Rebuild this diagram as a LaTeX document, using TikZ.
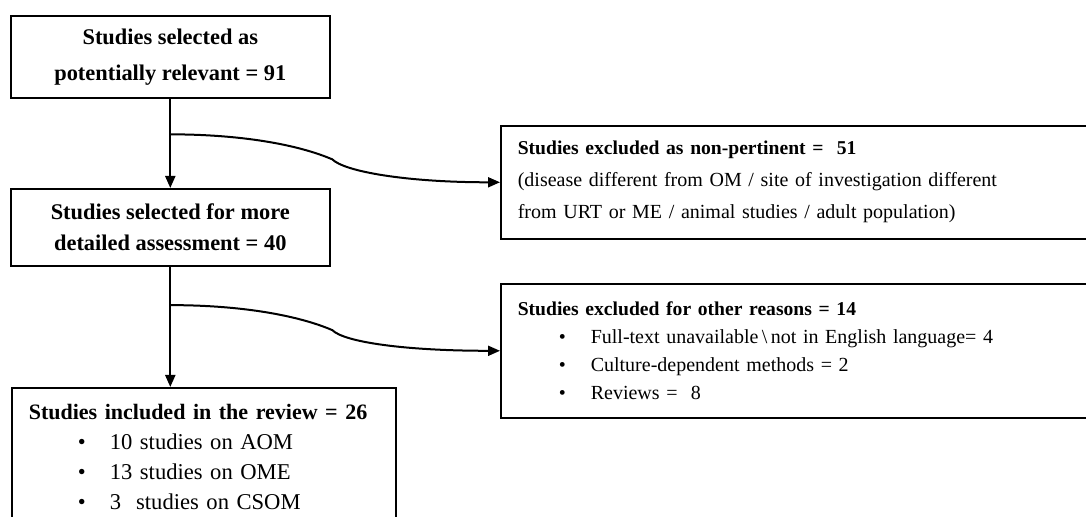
\documentclass[tikz,border=0pt]{standalone}
\usepackage{fontspec}
\setmainfont{Liberation Serif}
\usetikzlibrary{arrows.meta,calc}
\tikzset{
  stagebox/.style={draw,line width=0.8pt,anchor=north west,inner sep=0pt},
  listbox/.style={stagebox,align=left,inner xsep=8.5pt},
  flowline/.style={line width=1pt},
  flowarrow/.style={line width=1pt,-{Triangle[length=6pt,width=5pt]}}
}
\newcommand{\bul}[1]{\hspace*{#1}\makebox[16pt][l]{\textbullet}}
\newcommand{\rtitle}[1]{{\fontsize{9.8}{14}\selectfont\bfseries #1}}

\begin{document}
\begin{tikzpicture}[x=0.5pt,y=-0.5pt]
  \useasboundingbox (0,0) rectangle (1086,517);
  \clip (0,0) rectangle (1086,517);
  % stages on the left
  \node[stagebox,minimum width=159.5pt,minimum height=41pt,align=center,
        font=\fontsize{11.2}{17}\selectfont\bfseries] (sel) at (10,15)
    {Studies selected as\\[1pt]potentially relevant = 91};
  \node[stagebox,minimum width=159.5pt,minimum height=38.5pt,align=center,
        font=\fontsize{11.2}{15.5}\selectfont\bfseries] (det) at (10,188)
    {Studies selected for more\\detailed assessment = 40};
  \node[listbox,text width=175pt,inner ysep=8pt,
        font=\fontsize{11.3}{15}\selectfont] (inc) at (11,387)
    {{\fontsize{11}{15}\selectfont\bfseries Studies included in the review = 26}\\
     \bul{24.5pt}10 studies on AOM\\
     \bul{24.5pt}13 studies on OME\\
     \bul{24.5pt}3\ \ studies on CSOM\\[4pt]};
  % exclusions on the right
  \node[listbox,text width=283pt,minimum height=56.5pt,
        font=\fontsize{10}{16}\selectfont] (nonp) at (500,125)
    {\rtitle{Studies excluded as non-pertinent =\ \ 51}\\
     (disease different from OM / site of investigation different\\
     from URT or ME / animal studies / adult population)};
  \node[listbox,text width=283pt,minimum height=67pt,
        font=\fontsize{10}{14}\selectfont] (oth) at (500,283)
    {\rtitle{Studies excluded for other reasons = 14}\\
     \bul{20.5pt}Full-text unavailable\,\textbackslash\,not in English language= 4\\
     \bul{20.5pt}Culture-dependent methods = 2\\
     \bul{20.5pt}Reviews =\ \ 8};
  % branch points
  \coordinate (b1) at ($(sel.south)!0.4!(det.north)$);
  \coordinate (b2) at ($(det.south)!0.32!(det.south |- inc.north)$);
  \coordinate (k1) at ($(b1)+(162,25)$);
  \coordinate (k2) at ($(b2)+(162,25)$);
  \draw[flowarrow] (sel.south) -- (det.north);
  \draw[flowarrow] (det.south) -- (det.south |- inc.north);
  \draw[flowarrow] (b1) .. controls +(70,0) and +(-35,-15) .. (k1)
    .. controls +(12,12) and +(-95,0) .. (nonp.west);
  \draw[flowarrow] (b2) .. controls +(70,0) and +(-35,-15) .. (k2)
    .. controls +(12,12) and +(-95,0) .. (oth.west);
\end{tikzpicture}
\end{document}
